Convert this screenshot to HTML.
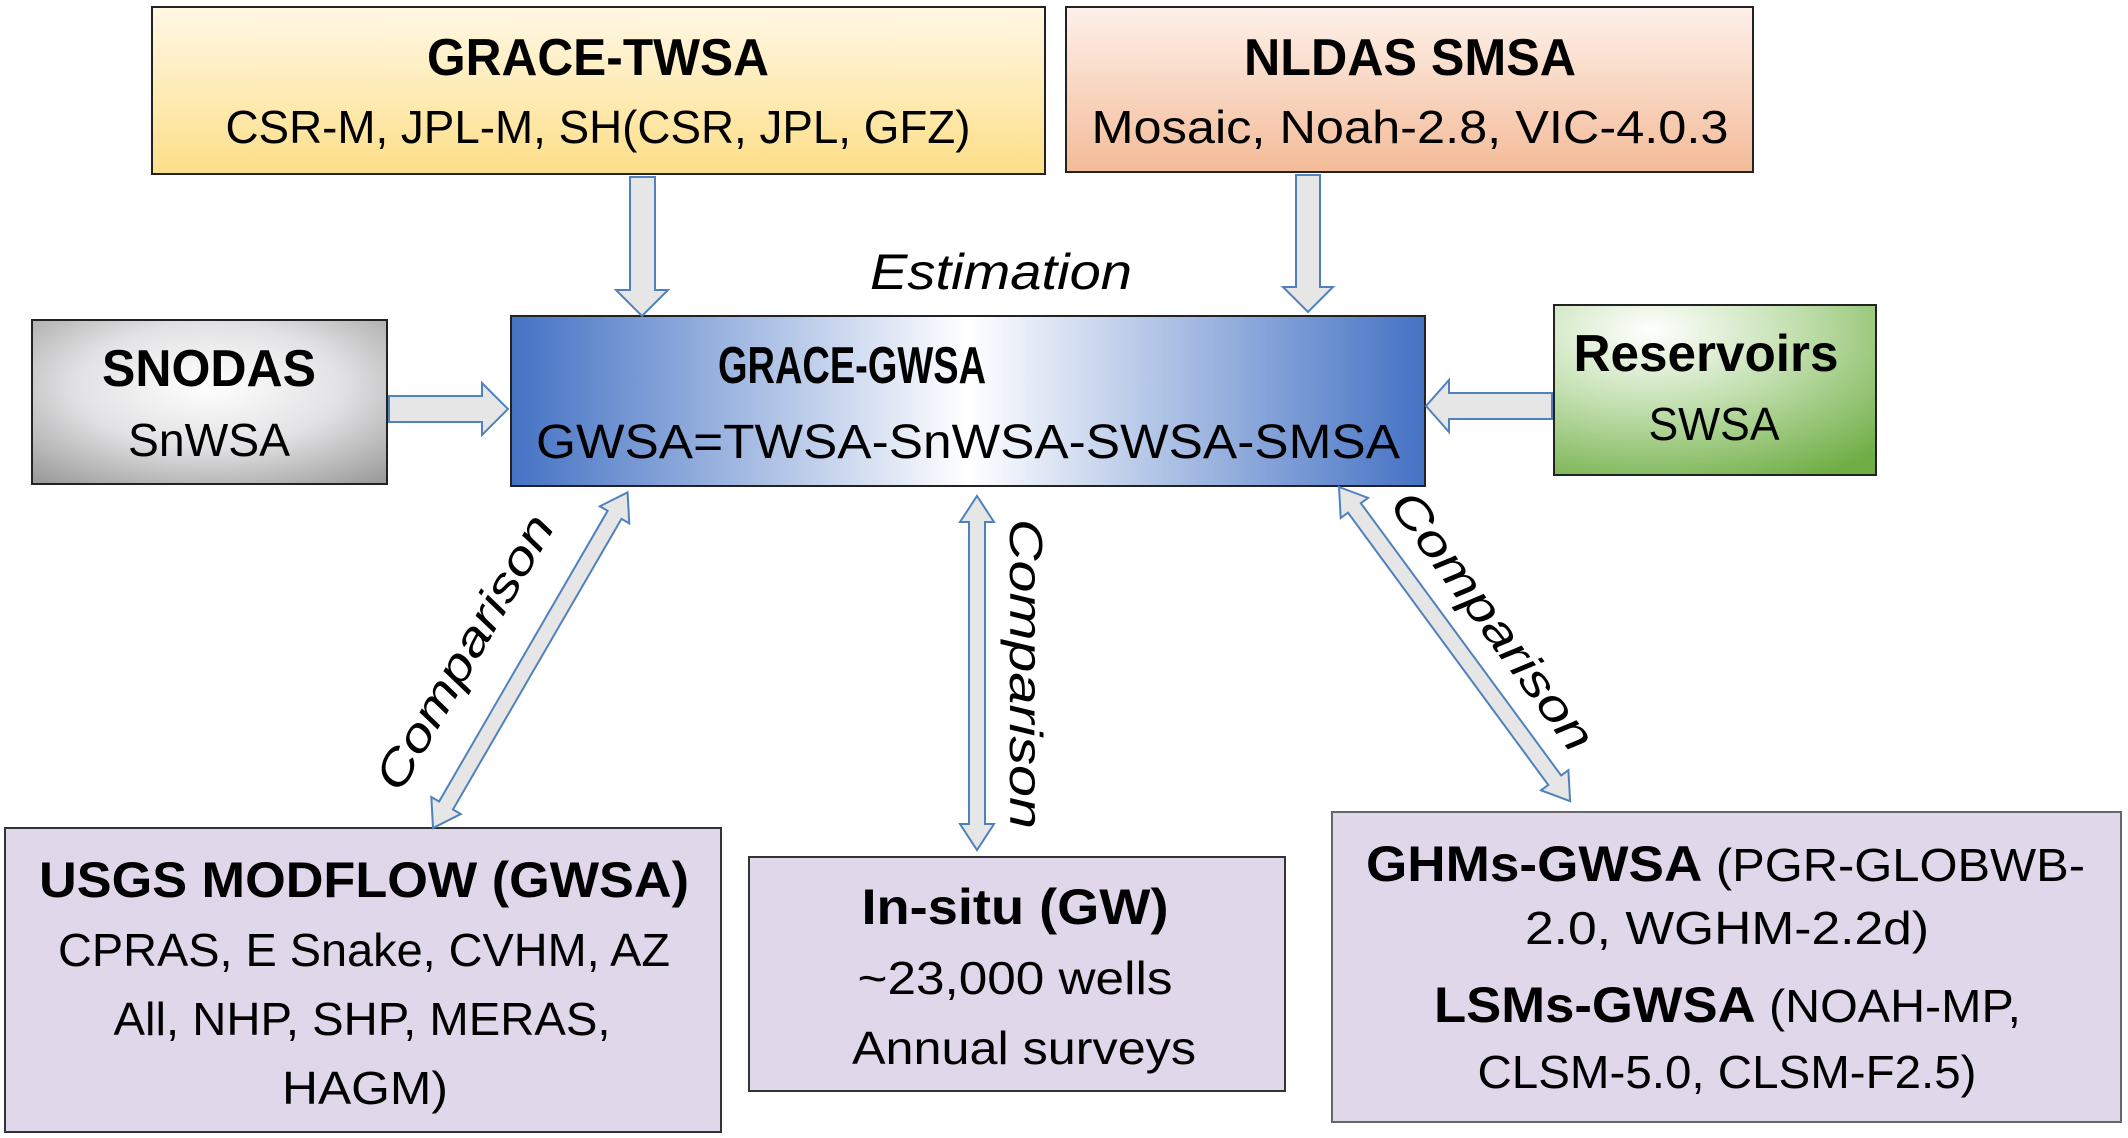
<!DOCTYPE html>
<html><head><meta charset="utf-8"><style>
html,body{margin:0;padding:0;background:#fff;}
svg{display:block;font-family:"Liberation Sans",sans-serif;}
</style></head><body>
<svg width="2128" height="1138" viewBox="0 0 2128 1138" xmlns="http://www.w3.org/2000/svg">
<defs>
<linearGradient id="gY" x1="0" y1="0" x2="0" y2="1"><stop offset="0" stop-color="#fff8e6"/><stop offset="1" stop-color="#fddf88"/></linearGradient>
<linearGradient id="gO" x1="0" y1="0" x2="0" y2="1"><stop offset="0" stop-color="#fdf1ea"/><stop offset="1" stop-color="#f4bb98"/></linearGradient>
<radialGradient id="gG" cx="0.5" cy="0.4" r="0.75"><stop offset="0" stop-color="#ffffff"/><stop offset="0.5" stop-color="#e2e2e4"/><stop offset="1" stop-color="#9c9c9c"/></radialGradient>
<linearGradient id="gB" x1="0" y1="0" x2="1" y2="0"><stop offset="0" stop-color="#4472c4"/><stop offset="0.5" stop-color="#ffffff"/><stop offset="1" stop-color="#4472c4"/></linearGradient>
<radialGradient id="gGr" cx="0.3" cy="0.15" r="1"><stop offset="0" stop-color="#ffffff"/><stop offset="0.45" stop-color="#c3e0b0"/><stop offset="1" stop-color="#6fae45"/></radialGradient>
</defs>

<g>
<rect x="152" y="7" width="893" height="167" fill="url(#gY)" stroke="#222" stroke-width="2"/>
<text x="598" y="75" text-anchor="middle" font-weight="bold" font-size="52" textLength="342" lengthAdjust="spacingAndGlyphs">GRACE-TWSA</text>
<text x="598" y="143" text-anchor="middle" font-size="46" textLength="745" lengthAdjust="spacingAndGlyphs">CSR-M, JPL-M, SH(CSR, JPL, GFZ)</text>
</g>

<g>
<rect x="1066" y="7" width="687" height="165" fill="url(#gO)" stroke="#222" stroke-width="2"/>
<text x="1410" y="75" text-anchor="middle" font-weight="bold" font-size="52" textLength="332" lengthAdjust="spacingAndGlyphs">NLDAS SMSA</text>
<text x="1410" y="143" text-anchor="middle" font-size="46" textLength="637" lengthAdjust="spacingAndGlyphs">Mosaic, Noah-2.8, VIC-4.0.3</text>
</g>

<g>
<rect x="32" y="320" width="355" height="164" fill="url(#gG)" stroke="#222" stroke-width="2"/>
<text x="209" y="386" text-anchor="middle" font-weight="bold" font-size="52" textLength="214" lengthAdjust="spacingAndGlyphs">SNODAS</text>
<text x="209" y="456" text-anchor="middle" font-size="46" textLength="162" lengthAdjust="spacingAndGlyphs">SnWSA</text>
</g>

<g>
<rect x="511" y="316" width="914" height="170" fill="url(#gB)" stroke="#222" stroke-width="2"/>
<text x="852" y="383" text-anchor="middle" font-weight="bold" font-size="52" textLength="268" lengthAdjust="spacingAndGlyphs">GRACE-GWSA</text>
<text x="968" y="458" text-anchor="middle" font-size="48" textLength="864" lengthAdjust="spacingAndGlyphs">GWSA=TWSA-SnWSA-SWSA-SMSA</text>
</g>

<text x="1001" y="289" text-anchor="middle" font-style="italic" font-size="50" textLength="262" lengthAdjust="spacingAndGlyphs">Estimation</text>

<g>
<rect x="1554" y="305" width="322" height="170" fill="url(#gGr)" stroke="#222" stroke-width="2"/>
<text x="1706" y="371" text-anchor="middle" font-weight="bold" font-size="52" textLength="265" lengthAdjust="spacingAndGlyphs">Reservoirs</text>
<text x="1714" y="440" text-anchor="middle" font-size="46" textLength="131" lengthAdjust="spacingAndGlyphs">SWSA</text>
</g>

<g>
<rect x="5" y="828" width="716" height="304" fill="#e0d7eb" stroke="#333" stroke-width="2"/>
<text x="364" y="897" text-anchor="middle" font-weight="bold" font-size="50" textLength="650" lengthAdjust="spacingAndGlyphs">USGS MODFLOW (GWSA)</text>
<text x="364" y="966" text-anchor="middle" font-size="46" textLength="612" lengthAdjust="spacingAndGlyphs">CPRAS, E Snake, CVHM, AZ</text>
<text x="362" y="1035" text-anchor="middle" font-size="46" textLength="497" lengthAdjust="spacingAndGlyphs">All, NHP, SHP, MERAS,</text>
<text x="365" y="1104" text-anchor="middle" font-size="46" textLength="166" lengthAdjust="spacingAndGlyphs">HAGM)</text>
</g>

<g>
<rect x="749" y="857" width="536" height="234" fill="#e0d7eb" stroke="#333" stroke-width="2"/>
<text x="1015" y="924" text-anchor="middle" font-weight="bold" font-size="50" textLength="307" lengthAdjust="spacingAndGlyphs">In-situ (GW)</text>
<text x="1015" y="994" text-anchor="middle" font-size="46" textLength="315" lengthAdjust="spacingAndGlyphs">~23,000 wells</text>
<text x="1024" y="1064" text-anchor="middle" font-size="46" textLength="344" lengthAdjust="spacingAndGlyphs">Annual surveys</text>
</g>

<g>
<rect x="1332" y="812" width="789" height="310" fill="#e0d7eb" stroke="#666" stroke-width="2"/>
<text x="1366" y="881" font-size="46" textLength="719" lengthAdjust="spacingAndGlyphs"><tspan font-weight="bold" font-size="50">GHMs-GWSA</tspan>  (PGR-GLOBWB-</text>
<text x="1727" y="944" text-anchor="middle" font-size="46" textLength="404" lengthAdjust="spacingAndGlyphs">2.0, WGHM-2.2d)</text>
<text x="1434" y="1022" font-size="46" textLength="587" lengthAdjust="spacingAndGlyphs"><tspan font-weight="bold" font-size="50">LSMs-GWSA</tspan> (NOAH-MP,</text>
<text x="1727" y="1088" text-anchor="middle" font-size="46" textLength="499" lengthAdjust="spacingAndGlyphs">CLSM-5.0, CLSM-F2.5)</text>
</g>

<g fill="#e6e6e6" stroke="#4f81bd" stroke-width="2" stroke-linejoin="miter">
<polygon points="630,177 655,177 655,290 668,290 642,316 616,290 630,290"/>
<polygon points="1296,175 1320,175 1320,287 1333,287 1308,312 1283,287 1296,287"/>
<polygon points="389,396 482,396 482,383 508,409 482,435 482,422 389,422"/>
<polygon points="1552,393 1449,393 1449,380 1426,406 1449,432 1449,419 1552,419"/>
<polygon transform="translate(433,828) rotate(-59.9)" points="0,0 26,-17 26,-8 362,-8 362,-17 388,0 362,17 362,8 26,8 26,17"/>
<polygon transform="translate(977,496) rotate(90)" points="0,0 26,-17 26,-8 328,-8 328,-17 354,0 328,17 328,8 26,8 26,17"/>
<polygon transform="translate(1339,487) rotate(53.66)" points="0,0 26,-17 26,-8 364,-8 364,-17 390,0 364,17 364,8 26,8 26,17"/>
</g>

<text transform="translate(478,660) rotate(-59.9)" text-anchor="middle" font-style="italic" font-size="46" textLength="310" lengthAdjust="spacingAndGlyphs">Comparison</text>
<text transform="translate(1010,674) rotate(90)" text-anchor="middle" font-style="italic" font-size="46" textLength="310" lengthAdjust="spacingAndGlyphs">Comparison</text>
<text transform="translate(1480,630) rotate(53.66)" text-anchor="middle" font-style="italic" font-size="46" textLength="310" lengthAdjust="spacingAndGlyphs">Comparison</text>
</svg>
</body></html>
